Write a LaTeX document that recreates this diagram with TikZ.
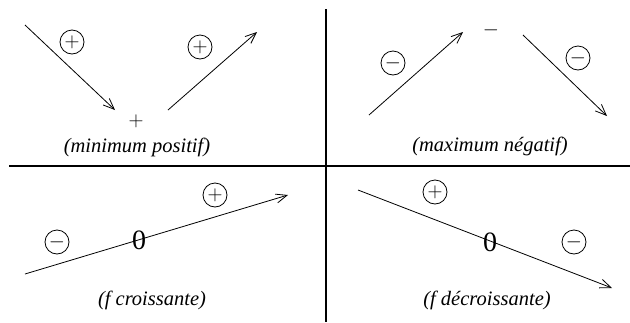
\documentclass[tikz,border=0pt]{standalone}
\usepackage{fontspec}
\setmainfont{Liberation Serif}
\usetikzlibrary{arrows.meta}
\begin{document}
\begin{tikzpicture}[x=1pt,y=-1pt,
  sep/.style={line width=1.1pt},
  arr/.style={line width=0.8pt,-{Straight Barb[length=11pt,width=9pt,line width=0.8pt]}},
  sgn/.style={circle,draw,line width=0.8pt,minimum size=24pt,inner sep=0pt,font=\fontsize{20}{24}\selectfont},
  lbl/.style={inner sep=0pt,font=\fontsize{20.5}{24}\selectfont\itshape},
  val/.style={inner sep=0pt,font=\fontsize{20}{24}\selectfont},
  zero/.style={inner sep=0pt,font=\fontsize{28}{32}\selectfont}]
\useasboundingbox (0,0) rectangle (630,322);
% separators
\coordinate (vt) at (326,9);
\coordinate (vb) at (326,322);
\coordinate (hl) at (9,166);
\coordinate (hr) at (630,166);
\draw[sep] (vt) -- (vb);
\draw[sep] (hl) -- (hr);
% top-left
\coordinate (a1) at (25,25);
\coordinate (a2) at (115,110);
\coordinate (a3) at (168,110);
\coordinate (a4) at (257,32);
\draw[arr] (a1) -- (a2);
\draw[arr] (a3) -- (a4);
\node[sgn] (p1) at (72,42) {$+$};
\node[sgn] (p2) at (200,47) {$+$};
\node[val] (vmin) at (136,121) {$+$};
\node[lbl] (tmin) at (137,147) {(minimum positif)};
% top-right
\coordinate (b1) at (369,115);
\coordinate (b2) at (463,32);
\coordinate (b3) at (523,35);
\coordinate (b4) at (607,116);
\draw[arr] (b1) -- (b2);
\draw[arr] (b3) -- (b4);
\node[sgn] (m1) at (393,63) {$-$};
\node[sgn] (m2) at (578,58) {$-$};
\node[val] (vmax) at (491,30) {$-$};
\node[lbl] (tmax) at (490,146) {(maximum négatif)};
% bottom-left
\coordinate (c1) at (25,274);
\coordinate (c2) at (288,195);
\draw[arr] (c1) -- (c2);
\node[sgn] (m3) at (57,242) {$-$};
\node[sgn] (p3) at (215,195) {$+$};
\node[zero] (z1) at (139,240) {0};
\node[lbl] (tcr) at (152,300) {(f croissante)};
% bottom-right
\coordinate (d1) at (358,190);
\coordinate (d2) at (612,288);
\draw[arr] (d1) -- (d2);
\node[sgn] (p4) at (435,192) {$+$};
\node[sgn] (m4) at (574,242) {$-$};
\node[zero] (z2) at (490,242) {0};
\node[lbl] (tdc) at (487,300) {(f décroissante)};
\end{tikzpicture}
\end{document}
